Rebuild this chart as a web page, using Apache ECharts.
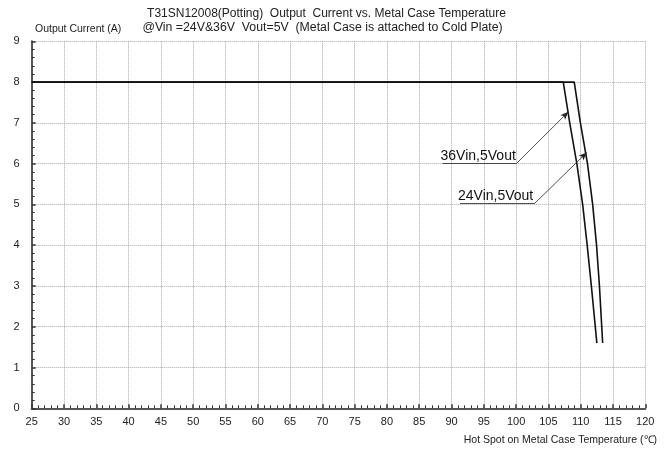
<!DOCTYPE html>
<html>
<head>
<meta charset="utf-8">
<script src="https://cdn.jsdelivr.net/npm/echarts@6/dist/echarts.min.js"></script>
<style>
  html, body { margin: 0; padding: 0; background: #fff; }
  #chart { width: 672px; height: 451px; }
</style>
</head>
<body>
<div id="chart"></div>
<script>
// derating curves, [temperature, current]
const curve36Vin = [[25, 8], [107.3, 8], [108.3, 7], [109.4, 6], [110.3, 5], [111.0, 4], [111.65, 3], [112.5, 1.6]];
const curve24Vin = [[25, 8], [109.0, 8], [109.95, 7], [111.05, 6], [111.85, 5], [112.45, 4], [112.9, 3], [113.4, 1.6]];

// callouts: text, underline start/end, arrow tip
const calloutText = ['36Vin,5Vout', '24Vin,5Vout'];
const underlineFrom = [[88.6, 6.01], [91.3, 5.03]];
const underlineTo = [[100.1, 6.01], [102.9, 5.03]];
const arrowTip = [[108.08, 7.27], [110.93, 6.27]];

const titleLines = [
  'T31SN12008(Potting)  Output  Current vs. Metal Case Temperature',
  '@Vin =24V&36V  Vout=5V  (Metal Case is attached to Cold Plate)'
];
const yName = 'Output Current (A)';
const xName = 'Hot Spot on Metal Case Temperature (\u2103)';

const chart = echarts.init(document.getElementById('chart'), null, { renderer: 'canvas' });

const font = 'Liberation Sans, Arial, sans-serif';

const lineData = [];
calloutText.forEach((t, i) => {
  lineData.push([{ coord: underlineFrom[i], symbol: 'none' }, { coord: underlineTo[i], symbol: 'none' }]);
  lineData.push([{ coord: underlineTo[i], symbol: 'none' }, { coord: arrowTip[i], symbol: 'arrow', symbolSize: [5, 8] }]);
});

const pointData = calloutText.map((t, i) => ({
  name: t,
  coord: [underlineFrom[i][0] - 0.3, underlineFrom[i][1]]
}));

const axisText = { color: '#222', fontSize: 11, fontFamily: font };

const option = {
  animation: false,
  backgroundColor: '#fff',
  title: [
    { text: titleLines[0], left: 321.5, top: 3, textAlign: 'center',
      textStyle: { fontSize: 12, fontWeight: 'normal', color: '#222', fontFamily: font } },
    { text: titleLines[1], left: 317.5, top: 17, textAlign: 'center',
      textStyle: { fontSize: 12.3, fontWeight: 'normal', color: '#222', fontFamily: font } },
    { text: yName, left: 30, top: 19,
      textStyle: { fontSize: 10.5, fontWeight: 'normal', color: '#222', fontFamily: font } },
    { text: xName, right: 10, top: 430,
      textStyle: { fontSize: 10.5, fontWeight: 'normal', color: '#222', fontFamily: font } }
  ],
  grid: { left: 31.7, right: 26.7, top: 41.3, bottom: 42.7, containLabel: false },
  xAxis: {
    type: 'value',
    min: 25, max: 120, interval: 5,
    axisLine: { show: true, onZero: false, lineStyle: { color: '#555', width: 2 } },
    axisTick: { show: true, inside: true, length: 4, lineStyle: { color: '#333', width: 1.5 } },
    minorTick: { show: true, splitNumber: 5, length: 3, lineStyle: { color: '#333', width: 1 } },
    axisLabel: Object.assign({ margin: 8 }, axisText),
    splitLine: { show: true, lineStyle: { color: '#aaa', type: [1, 1], width: 1 } },
    minorSplitLine: { show: false }
  },
  yAxis: {
    type: 'value',
    min: 0, max: 9, interval: 1,
    axisLine: { show: true, onZero: false, lineStyle: { color: '#555', width: 2 } },
    axisTick: { show: true, inside: true, length: 4, lineStyle: { color: '#333', width: 1.5 } },
    minorTick: { show: true, splitNumber: 5, length: 3, lineStyle: { color: '#333', width: 1 } },
    axisLabel: Object.assign({ margin: 12 }, axisText),
    splitLine: { show: true, lineStyle: { color: '#aaa', type: [1, 1], width: 1 } }
  },
  series: [
    {
      name: '36Vin,5Vout',
      type: 'line',
      data: curve36Vin,
      symbol: 'none',
      lineStyle: { color: '#111', width: 1.6 },
      z: 3,
      markLine: {
        silent: true,
        symbol: ['none', 'none'],
        lineStyle: { color: '#222', width: 0.8, type: 'solid' },
        label: { show: false },
        data: lineData
      },
      markPoint: {
        silent: true,
        symbol: 'rect',
        symbolSize: 0,
        label: {
          show: true,
          formatter: '{b}',
          position: [0, 0],
          align: 'left',
          verticalAlign: 'bottom',
          color: '#111',
          fontSize: 14,
          fontFamily: font
        },
        data: pointData
      }
    },
    {
      name: '24Vin,5Vout',
      type: 'line',
      data: curve24Vin,
      symbol: 'none',
      lineStyle: { color: '#111', width: 1.6 },
      z: 3
    }
  ]
};

chart.setOption(option);
</script>
</body>
</html>
